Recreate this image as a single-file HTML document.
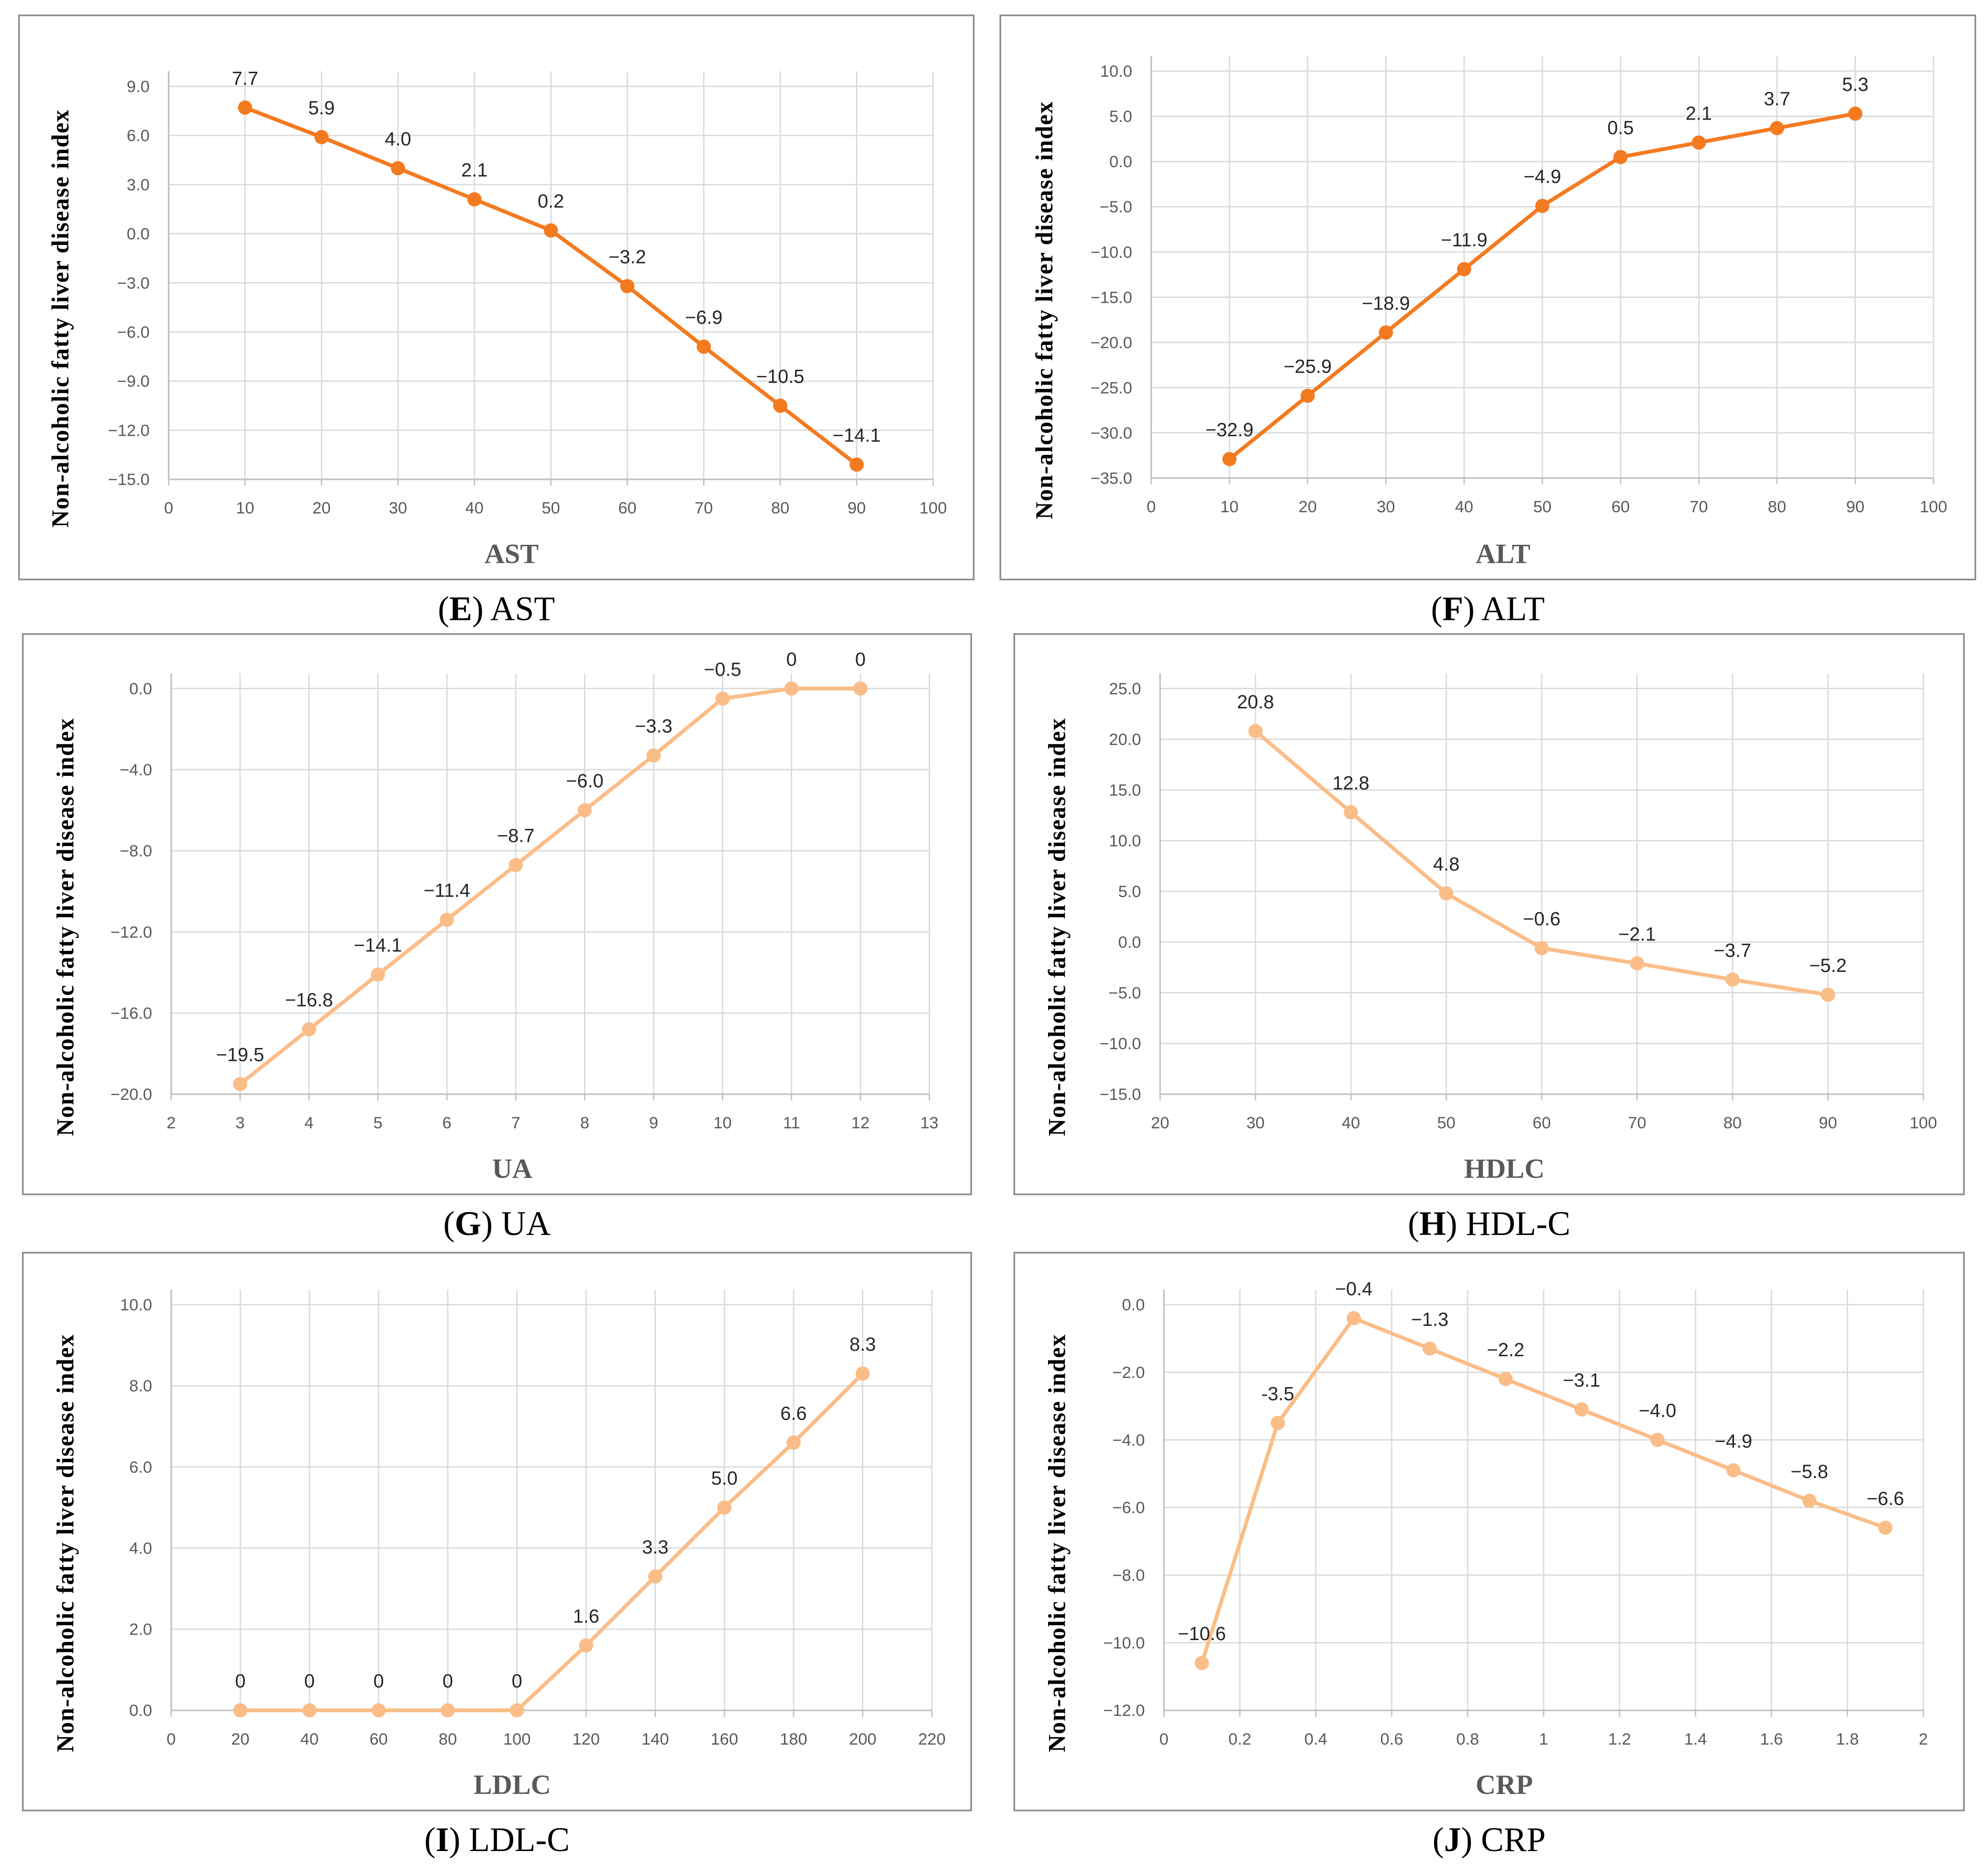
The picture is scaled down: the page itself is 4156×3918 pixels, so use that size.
<!DOCTYPE html>
<html><head><meta charset="utf-8"><style>
html,body{margin:0;padding:0;background:#fff}
svg{display:block}
</style></head><body>
<svg id="fig" width="4156" height="3918" viewBox="0 0 1568 1478" xmlns="http://www.w3.org/2000/svg"></svg>
<script>
// Panel E - AST
const astX = [10,20,30,40,50,60,70,80,90];
const astY = [7.7,5.9,4.0,2.1,0.2,-3.2,-6.9,-10.5,-14.1];
const astLabels = ["7.7","5.9","4.0","2.1","0.2","−3.2","−6.9","−10.5","−14.1"];
const astXTicks = [0,10,20,30,40,50,60,70,80,90,100];
const astYTicks = [9,6,3,0,-3,-6,-9,-12,-15];
// Panel F - ALT
const altX = [10,20,30,40,50,60,70,80,90];
const altY = [-32.9,-25.9,-18.9,-11.9,-4.9,0.5,2.1,3.7,5.3];
const altLabels = ["−32.9","−25.9","−18.9","−11.9","−4.9","0.5","2.1","3.7","5.3"];
const altXTicks = [0,10,20,30,40,50,60,70,80,90,100];
const altYTicks = [10,5,0,-5,-10,-15,-20,-25,-30,-35];
// Panel G - UA
const uaX = [3,4,5,6,7,8,9,10,11,12];
const uaY = [-19.5,-16.8,-14.1,-11.4,-8.7,-6.0,-3.3,-0.5,0,0];
const uaLabels = ["−19.5","−16.8","−14.1","−11.4","−8.7","−6.0","−3.3","−0.5","0","0"];
const uaXTicks = [2,3,4,5,6,7,8,9,10,11,12,13];
const uaYTicks = [0,-4,-8,-12,-16,-20];
// Panel H - HDLC
const hdlX = [30,40,50,60,70,80,90];
const hdlY = [20.8,12.8,4.8,-0.6,-2.1,-3.7,-5.2];
const hdlLabels = ["20.8","12.8","4.8","−0.6","−2.1","−3.7","−5.2"];
const hdlXTicks = [20,30,40,50,60,70,80,90,100];
const hdlYTicks = [25,20,15,10,5,0,-5,-10,-15];
// Panel I - LDLC
const ldlX = [20,40,60,80,100,120,140,160,180,200];
const ldlY = [0,0,0,0,0,1.6,3.3,5.0,6.6,8.3];
const ldlLabels = ["0","0","0","0","0","1.6","3.3","5.0","6.6","8.3"];
const ldlXTicks = [0,20,40,60,80,100,120,140,160,180,200,220];
const ldlYTicks = [10,8,6,4,2,0];
// Panel J - CRP
const crpX = [0.1,0.3,0.5,0.7,0.9,1.1,1.3,1.5,1.7,1.9];
const crpY = [-10.6,-3.5,-0.4,-1.3,-2.2,-3.1,-4.0,-4.9,-5.8,-6.6];
const crpLabels = ["−10.6","-3.5","−0.4","−1.3","−2.2","−3.1","−4.0","−4.9","−5.8","−6.6"];
const crpXTicks = [0,0.2,0.4,0.6,0.8,1,1.2,1.4,1.6,1.8,2];
const crpYTicks = [0,-2,-4,-6,-8,-10,-12];

const NS = "http://www.w3.org/2000/svg";
const root = document.getElementById('fig');
function mk(tag, attrs, parent, text){
  const e = document.createElementNS(NS, tag);
  for (const k in attrs) e.setAttribute(k, attrs[k]);
  if (text !== undefined) e.textContent = text;
  parent.appendChild(e);
  return e;
}
function fmtY(v, dec){ const s = Math.abs(v).toFixed(dec); return (v<0?"−":"")+s; }

function panel(cfg){
  const g = mk('g', {}, root);
  
  
  const box = mk('rect', {x:cfg.box[0], y:cfg.box[1], width:cfg.box[2]-cfg.box[0], height:cfg.box[3]-cfg.box[1], fill:'#fff', stroke:'#8c8c8c', 'stroke-width':1.3}, g);
  
  
  const xmin = cfg.xt[0], xmax = cfg.xt[cfg.xt.length-1];
  const ymax = cfg.yt[0], ymin = cfg.yt[cfg.yt.length-1];
  const sx = v => cfg.px0 + (v - xmin) / (xmax - xmin) * (cfg.px1 - cfg.px0);
  const sy = v => cfg.py0 + (ymax - v) / (ymax - ymin) * (cfg.py1 - cfg.py0);
  const top = cfg.py0 - 12;
  cfg.xt.forEach((t,i) => {
    if (i === 0) return;
    const l = mk('line', {x1:sx(t), x2:sx(t), y1:top, y2:cfg.py1, stroke:'#d9d9d9', 'stroke-width':1}, g);
    
    
  });
  cfg.yt.forEach(t => {
    const l = mk('line', {x1:cfg.px0, x2:cfg.px1, y1:sy(t), y2:sy(t), stroke:'#d9d9d9', 'stroke-width':1}, g);
    
    
    const tx = mk('text', {x:cfg.px0 - 15, y:sy(t) + 4.5, 'text-anchor':'end', 'font-family':'Liberation Sans, sans-serif', 'font-size':13, fill:'#595959'}, g, fmtY(t, 1));
    
    
  });
  const ya = mk('line', {x1:cfg.px0, x2:cfg.px0, y1:top, y2:cfg.py1, stroke:'#bfbfbf', 'stroke-width':1.2}, g);
  
  
  const xa = mk('line', {x1:cfg.px0, x2:cfg.px1, y1:cfg.py1, y2:cfg.py1, stroke:'#bfbfbf', 'stroke-width':1.2}, g);
  
  
  cfg.xt.forEach(t => {
    const tk = mk('line', {x1:sx(t), x2:sx(t), y1:cfg.py1, y2:cfg.py1+5, stroke:'#bfbfbf', 'stroke-width':1}, g);
    
    
    const tx = mk('text', {x:sx(t), y:cfg.py1 + 27, 'text-anchor':'middle', 'font-family':'Liberation Sans, sans-serif', 'font-size':13, fill:'#595959'}, g, String(t));
    
    
  });
  const pts = cfg.xs.map((x,i) => sx(x).toFixed(2) + ',' + sy(cfg.ys[i]).toFixed(2)).join(' ');
  const pl = mk('polyline', {points:pts, fill:'none', stroke:cfg.color, 'stroke-width':3, 'stroke-linejoin':'round'}, g);
  
  
  cfg.xs.forEach((x,i) => {
    const c = mk('circle', {cx:sx(x), cy:sy(cfg.ys[i]), r:5.6, fill:cfg.color}, g);
    
    
    const lb = mk('text', {x:sx(x), y:sy(cfg.ys[i]) - 18, 'text-anchor':'middle', 'font-family':'Liberation Sans, sans-serif', 'font-size':15, fill:'#262626'}, g, cfg.labels[i]);
    
    
  });
  const ymid = (top + cfg.py1) / 2 + 34;
  const yt = mk('text', {x:0, y:0, transform:'translate(' + cfg.ytx + ',' + ymid + ') rotate(-90)', 'text-anchor':'middle', 'font-family':'Liberation Serif, serif', 'font-weight':'bold', 'font-size':19, 'letter-spacing':0.6, fill:'#000'}, g, 'Non-alcoholic fatty liver disease index');
  
  
  const xc = (cfg.box[0] + cfg.box[2]) / 2 + 12;
  const xt = mk('text', {x:xc, y:cfg.box[3] - 13, 'text-anchor':'middle', 'font-family':'Liberation Serif, serif', 'font-weight':'bold', 'font-size':22, fill:'#595959'}, g, cfg.xtitle);
  
  
  const cap = mk('text', {x:(cfg.box[0] + cfg.box[2]) / 2, y:cfg.box[3] + 32, 'text-anchor':'middle', 'font-family':'Liberation Serif, serif', 'font-size':27, fill:'#000'}, g);
  
  
  mk('tspan', {}, cap, '(');
  mk('tspan', {'font-weight':'bold'}, cap, cfg.letter);
  mk('tspan', {}, cap, ') ' + cfg.captext);
}

const orange = '#f47a20', light = '#fbbd88';
panel({name:'ast', box:[15,12,768,457], px0:133, px1:736, py0:68, py1:378, xt:astXTicks, yt:astYTicks, xs:astX, ys:astY, labels:astLabels, color:orange, ytx:54, xtitle:'AST', letter:'E', captext:'AST'});
panel({name:'alt', box:[789,12,1558,457], px0:908, px1:1525, py0:56, py1:377, xt:altXTicks, yt:altYTicks, xs:altX, ys:altY, labels:altLabels, color:orange, ytx:830, xtitle:'ALT', letter:'F', captext:'ALT'});
panel({name:'ua', box:[18,500,766,942], px0:135, px1:733, py0:543, py1:863, xt:uaXTicks, yt:uaYTicks, xs:uaX, ys:uaY, labels:uaLabels, color:light, ytx:58, xtitle:'UA', letter:'G', captext:'UA'});
panel({name:'hdlc', box:[800,500,1549,942], px0:915, px1:1517, py0:543, py1:863, xt:hdlXTicks, yt:hdlYTicks, xs:hdlX, ys:hdlY, labels:hdlLabels, color:light, ytx:840, xtitle:'HDLC', letter:'H', captext:'HDL-C'});
panel({name:'ldlc', box:[18,988,766,1428], px0:135, px1:735, py0:1029, py1:1349, xt:ldlXTicks, yt:ldlYTicks, xs:ldlX, ys:ldlY, labels:ldlLabels, color:light, ytx:58, xtitle:'LDLC', letter:'I', captext:'LDL-C'});
panel({name:'crp', box:[800,988,1549,1428], px0:918, px1:1517, py0:1029, py1:1349, xt:crpXTicks, yt:crpYTicks, xs:crpX, ys:crpY, labels:crpLabels, color:light, ytx:840, xtitle:'CRP', letter:'J', captext:'CRP'});
</script>
</body></html>
